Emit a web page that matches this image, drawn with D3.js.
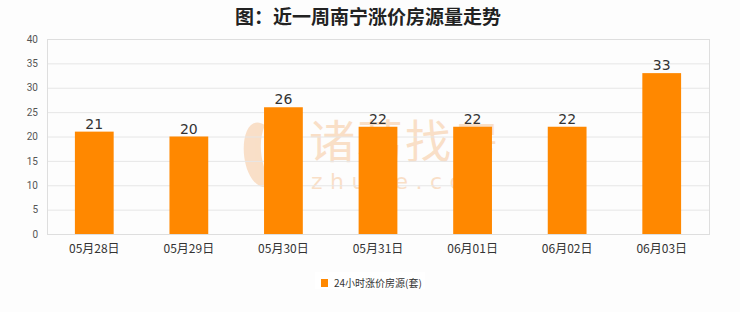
<!DOCTYPE html>
<html>
<head>
<meta charset="utf-8">
<script src="https://cdn.jsdelivr.net/npm/d3@7/dist/d3.min.js"></script>
<style>
  html, body { margin: 0; padding: 0; background: #fdfdfd; }
  svg { display: block; }
</style>
</head>
<body>
<svg id="chart" width="740" height="312"></svg>
<script>
// Daily count of listings with a price increase (Nanning, last 7 days)
const categories = ["05月28日", "05月29日", "05月30日", "05月31日", "06月01日", "06月02日", "06月03日"];
const values = [21, 20, 26, 22, 22, 22, 33];
const yTicks = [0, 5, 10, 15, 20, 25, 30, 35, 40];
const titleText = "图：近一周南宁涨价房源量走势";
const seriesName = "24小时涨价房源(套)";

const W = 740, H = 312;
const margin = { top: 39, right: 31, bottom: 78, left: 47 };
const plotW = W - margin.left - margin.right;
const plotH = H - margin.top - margin.bottom;
const barColor = "#ff8800";
const cjk = "'Noto Sans CJK SC', 'Noto Sans', sans-serif";

const svg = d3.select("#chart");

// Title
svg.append("text")
  .attr("x", 368).attr("y", 24)
  .attr("text-anchor", "middle")
  .attr("font-family", cjk)
  .attr("font-size", 19)
  .attr("font-weight", 700)
  .attr("fill", "#222")
  .text(titleText);

const g = svg.append("g").attr("transform", `translate(${margin.left},${margin.top})`);

const x = d3.scaleBand().domain(categories).range([0, plotW]).paddingInner(0.59).paddingOuter(0.295);
const y = d3.scaleLinear().domain([0, 40]).range([plotH, 0]);

// Background watermark
const wm = g.append("g").attr("opacity", 0.27).attr("fill", "#f0903a");
wm.append("path")
  .attr("d", "M218,86 C196,72 190,118 205,140 C212,150 222,150 225,145 C214,128 210,104 218,86 Z M230,92 C222,110 222,132 228,142 C236,132 238,108 230,92 Z");
wm.append("text")
  .attr("x", 262).attr("y", 119)
  .attr("font-family", cjk)
  .attr("font-size", 46)
  .attr("letter-spacing", 2)
  .text("诸葛找房");
wm.append("text")
  .attr("x", 264).attr("y", 150)
  .attr("font-family", "'DejaVu Sans', sans-serif")
  .attr("font-size", 22)
  .attr("letter-spacing", 7.5)
  .text("zhuge.com");

// Horizontal grid lines
g.append("g")
  .selectAll("line")
  .data(yTicks)
  .join("line")
  .attr("x1", 0).attr("x2", plotW)
  .attr("y1", d => y(d) + 0.5).attr("y2", d => y(d) + 0.5)
  .attr("stroke", "#e6e6e6")
  .attr("stroke-width", 1);

// Plot frame
g.append("rect")
  .attr("x", 0.5).attr("y", 0.5)
  .attr("width", plotW).attr("height", plotH)
  .attr("fill", "none")
  .attr("stroke", "#dedede");

// Y axis labels
const yAxis = d3.axisLeft(y).tickValues(yTicks).tickSize(0).tickPadding(9);
g.append("g")
  .call(yAxis)
  .call(s => s.select(".domain").remove())
  .call(s => s.selectAll("text")
    .attr("font-family", "Roboto, 'DejaVu Sans', sans-serif")
    .attr("font-size", 10)
    .attr("fill", "#555"));

// X axis labels
const xAxis = d3.axisBottom(x).tickSize(0).tickPadding(10);
g.append("g")
  .attr("transform", `translate(0,${plotH})`)
  .call(xAxis)
  .call(s => s.select(".domain").remove())
  .call(s => s.selectAll("text")
    .attr("font-family", cjk)
    .attr("font-size", 12)
    .attr("fill", "#333"));

// Bars
g.append("g")
  .selectAll("rect")
  .data(values)
  .join("rect")
  .attr("x", (d, i) => x(categories[i]))
  .attr("y", d => y(d))
  .attr("width", x.bandwidth())
  .attr("height", d => plotH - y(d))
  .attr("fill", barColor);

// Value labels
g.append("g")
  .selectAll("text")
  .data(values)
  .join("text")
  .attr("x", (d, i) => x(categories[i]) + x.bandwidth() / 2)
  .attr("y", d => y(d) - 3)
  .attr("text-anchor", "middle")
  .attr("font-family", "'DejaVu Sans', sans-serif")
  .attr("font-size", 14)
  .attr("fill", "#333")
  .text(d => d);

// Legend
const lg = svg.append("g").attr("transform", "translate(321,279)");
lg.append("rect").attr("x", -6).attr("y", -7).attr("width", 110).attr("height", 17).attr("fill", "#fff");
lg.append("rect").attr("width", 7).attr("height", 8).attr("fill", barColor);
lg.append("text")
  .attr("x", 13).attr("y", 7.5)
  .attr("font-family", cjk)
  .attr("font-size", 10)
  .attr("fill", "#333")
  .text(seriesName);
</script>
</body>
</html>
